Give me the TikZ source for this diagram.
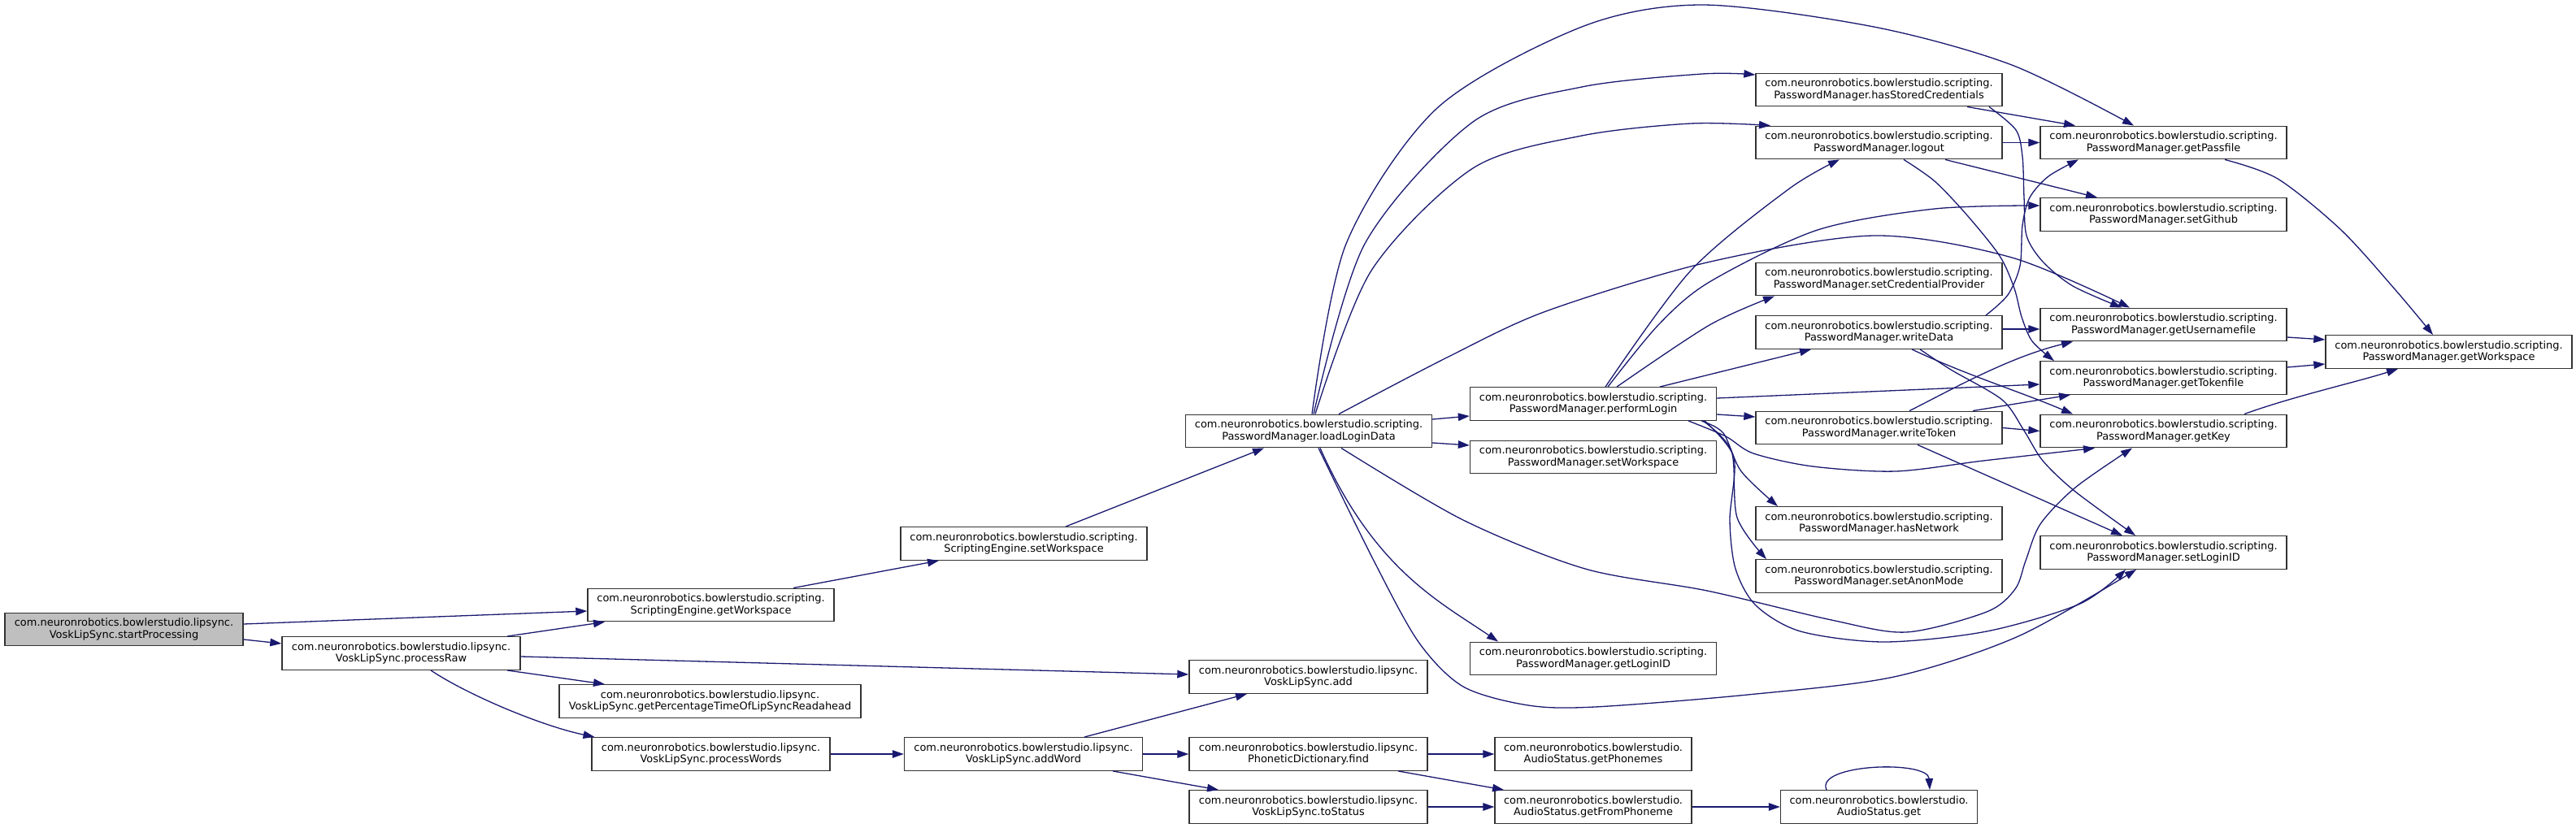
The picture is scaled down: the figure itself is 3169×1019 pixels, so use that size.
\documentclass[tikz,border=0pt]{standalone}
\usepackage{fontspec}
\setmainfont{DejaVu Sans}
\usetikzlibrary{arrows.meta}
\definecolor{edgeC}{HTML}{191970}
\definecolor{rootC}{HTML}{BFBFBF}
\tikzset{
  fn/.style={draw=black!80, line width=1.4pt, rectangle, inner sep=0pt, minimum height=40.5pt, align=center, fill=white,
    font=\fontsize{12.93}{14.7}\selectfont},
  w303/.style={minimum width=303pt},
  w293/.style={minimum width=293pt},
  w242/.style={minimum width=242pt},
  e/.style={draw=edgeC, line width=1.3pt, -{Triangle[length=14pt,width=9.5pt]}},
}
\newcommand{\pkgSc}{com.neuronrobotics.bowlerstudio.scripting.}
\newcommand{\pkgLs}{com.neuronrobotics.bowlerstudio.lipsync.}
\newcommand{\pkgBs}{com.neuronrobotics.bowlerstudio.}
\begin{document}
\begin{tikzpicture}[x=1pt,y=-1pt]
\useasboundingbox (0,0) rectangle (3169,1019);
% nodes
\node[fn,w293,fill=rootC] (sp) at (152.5,774.5) {\pkgLs\\VoskLipSync.startProcessing};
\node[fn,w303] (seGW) at (874.5,744.5) {\pkgSc\\ScriptingEngine.getWorkspace};
\node[fn,w293] (pRaw) at (493.5,804) {\pkgLs\\VoskLipSync.processRaw};
\node[fn,minimum width=371pt] (gPct) at (873.5,863) {\pkgLs\\VoskLipSync.getPercentageTimeOfLipSyncReadahead};
\node[fn,w293] (pWords) at (874.5,928) {\pkgLs\\VoskLipSync.processWords};
\node[fn,w303] (seSW) at (1259.5,669) {\pkgSc\\ScriptingEngine.setWorkspace};
\node[fn,w303] (lld) at (1610,530.5) {\pkgSc\\PasswordManager.loadLoginData};
\node[fn,w293] (add) at (1609.5,833) {\pkgLs\\VoskLipSync.add};
\node[fn,w293] (addWord) at (1259,928) {\pkgLs\\VoskLipSync.addWord};
\node[fn,w293] (find) at (1609.5,928) {\pkgLs\\PhoneticDictionary.find};
\node[fn,w293] (toStatus) at (1609.5,993) {\pkgLs\\VoskLipSync.toStatus};
\node[fn,w303] (perf) at (1960,497) {\pkgSc\\PasswordManager.performLogin};
\node[fn,w303] (pmSW) at (1960,562.5) {\pkgSc\\PasswordManager.setWorkspace};
\node[fn,w303] (gLogin) at (1960,810.5) {\pkgSc\\PasswordManager.getLoginID};
\node[fn,w242] (getPhon) at (1960,928) {\pkgBs\\AudioStatus.getPhonemes};
\node[fn,w242] (getFrom) at (1960,993) {\pkgBs\\AudioStatus.getFromPhoneme};
\node[fn,w303] (hasSC) at (2311.5,110.5) {\pkgSc\\PasswordManager.hasStoredCredentials};
\node[fn,w303] (logout) at (2311.5,175.5) {\pkgSc\\PasswordManager.logout};
\node[fn,w303] (setCP) at (2311.5,343.5) {\pkgSc\\PasswordManager.setCredentialProvider};
\node[fn,w303] (wData) at (2311.5,409) {\pkgSc\\PasswordManager.writeData};
\node[fn,w303] (wToken) at (2311.5,526.5) {\pkgSc\\PasswordManager.writeToken};
\node[fn,w303] (hasNet) at (2311.5,644) {\pkgSc\\PasswordManager.hasNetwork};
\node[fn,w303] (setAnon) at (2311.5,709) {\pkgSc\\PasswordManager.setAnonMode};
\node[fn,w242] (asGet) at (2311.5,993) {\pkgBs\\AudioStatus.get};
\node[fn,w303] (gPass) at (2661.5,175.5) {\pkgSc\\PasswordManager.getPassfile};
\node[fn,w303] (setGh) at (2661.5,264) {\pkgSc\\PasswordManager.setGithub};
\node[fn,w303] (gUser) at (2661.5,399.5) {\pkgSc\\PasswordManager.getUsernamefile};
\node[fn,w303] (gToken) at (2661.5,465) {\pkgSc\\PasswordManager.getTokenfile};
\node[fn,w303] (gKey) at (2661.5,530.5) {\pkgSc\\PasswordManager.getKey};
\node[fn,w303] (setLID) at (2661.5,680) {\pkgSc\\PasswordManager.setLoginID};
\node[fn,w303] (pmGW) at (3012.5,433) {\pkgSc\\PasswordManager.getWorkspace};
% edges: left part
\draw[e] ([yshift=6.5pt]sp.east) -- ([yshift=-7.5pt]seGW.west);
\draw[e] ([yshift=-12.5pt]sp.east) -- ([yshift=12pt]pRaw.west);
\draw[e] ([xshift=130.5pt]pRaw.north) -- ([xshift=-130.5pt]seGW.south);
\draw[e] ([yshift=-4pt]pRaw.east) -- ([yshift=3pt]add.west);
\draw[e] ([xshift=130.5pt]pRaw.south) -- ([xshift=-129.5pt]gPct.north);
\draw[e] ([xshift=36.5pt]pRaw.south) .. controls (575,855) and (665,893) .. ([xshift=-143pt]pWords.north);
\draw[e] (pWords.east) -- (addWord.west);
\draw[e] ([xshift=101.5pt]seGW.north) -- ([xshift=-104.5pt]seSW.south);
\draw[e] ([xshift=51.5pt]seSW.north) -- ([xshift=-55pt]lld.south);
\draw[e] ([xshift=75pt]addWord.north) -- ([xshift=-75.5pt]add.south);
\draw[e] (addWord.east) -- (find.west);
\draw[e] ([xshift=110pt]addWord.south) -- ([xshift=-110.5pt]toStatus.north);
\draw[e] (find.east) -- (getPhon.west);
\draw[e] ([xshift=110.5pt]find.south) -- ([xshift=-110pt]getFrom.north);
\draw[e] (toStatus.east) -- (getFrom.west);
\draw[e] (getFrom.east) -- (asGet.west);
\draw[e] ([xshift=-64.5pt]asGet.north) .. controls (2232,940) and (2372,935) .. ([xshift=62.5pt]asGet.north);
% loadLoginData
\draw[e] plot[smooth] coordinates {([xshift=4pt]lld.north) (1656,300) (1768,133) (1946,33) (2094,6) (2305,33) (2475,80) ([xshift=-36.5pt]gPass.north)};
\draw[e] plot[smooth] coordinates {([xshift=6pt]lld.north) (1679,300) (1812,150) (1946,107) (2094,91) ([yshift=18.5pt]hasSC.west)};
\draw[e] plot[smooth] coordinates {([xshift=8pt]lld.north) (1687,333) (1812,207) (1946,167) (2080,152) ([xshift=-133.5pt]logout.north)};
\draw[e] plot[smooth] coordinates {([xshift=37pt]lld.north) (1780,440) (1902,383) (2100,323) (2305,290) (2475,317) ([xshift=-41.5pt]gUser.north)};
\draw[e] ([yshift=14.5pt]lld.east) -- ([yshift=-15pt]perf.west);
\draw[e] ([yshift=-14.5pt]lld.east) -- ([yshift=14.5pt]pmSW.west);
\draw[e] ([xshift=14pt]lld.south) .. controls (1690,700) and (1770,740) .. ([xshift=-117pt]gLogin.north);
\draw[e] plot[smooth] coordinates {([xshift=12pt]lld.south) (1690,690) (1745,790) (1800,845) (1880,868) (1962,870) (2150,855) (2330,833) (2483,783) ([xshift=-33.5pt]setLID.south)};
\draw[e] plot[smooth] coordinates {([xshift=40pt]lld.south) (1800,640) (1950,700) (2100,727) (2253,763) (2345,778) (2444,753) (2479,725) (2492,690) (2510,645) (2553,600) ([xshift=-38.5pt]gKey.south)};
% performLogin
\draw[e] plot[smooth] coordinates {([xshift=15pt]perf.north) (2080,333) (2200,233) ([xshift=-48.5pt]logout.south)};
\draw[e] plot[smooth] coordinates {([xshift=18pt]perf.north) (2040,400) (2103,347) (2236,283) (2380,257) ([yshift=11pt]setGh.west)};
\draw[e] plot[smooth] coordinates {([xshift=29pt]perf.north) (2103,400) ([xshift=-128.5pt]setCP.south)};
\draw[e] ([xshift=82pt]perf.north) -- ([xshift=-83.5pt]wData.south);
\draw[e] ([yshift=7pt]perf.east) -- ([yshift=-8pt]gToken.west);
\draw[e] ([yshift=-13pt]perf.east) -- ([yshift=13.5pt]wToken.west);
\draw[e] plot[smooth] coordinates {([xshift=117pt]perf.south) (2123,537) (2157,558) (2230,574) (2332,580) (2440,567) ([xshift=-84.5pt]gKey.south)};
\draw[e] plot[smooth] coordinates {([xshift=133pt]perf.south) (2120,533) (2142,580) ([xshift=-124.5pt]hasNet.north)};
\draw[e] plot[smooth] coordinates {([xshift=135pt]perf.south) (2130,555) (2137,637) ([xshift=-138.5pt]setAnon.north)};
\draw[e] plot[smooth] coordinates {([xshift=137pt]perf.south) (2133,563) (2128,640) (2135,700) (2160,745) (2215,777) (2318,790) (2444,777) (2559,743) ([xshift=-46.5pt]setLID.south)};
% second column
\draw[e] ([xshift=108.5pt]hasSC.south) -- ([xshift=-108.5pt]gPass.north);
\draw[e] plot[smooth] coordinates {([xshift=135.5pt]hasSC.south) (2480,160) (2488,193) (2490,243) (2493,290) (2513,322) (2550,352) ([xshift=-51.5pt]gUser.north)};
\draw[e] (logout.east) -- (gPass.west);
\draw[e] ([xshift=81.5pt]logout.south) -- ([xshift=-81.5pt]setGh.north);
\draw[e] plot[smooth] coordinates {([xshift=30.5pt]logout.south) (2380,223) (2420,265) (2460,315) (2478,355) (2487,390) (2500,420) ([xshift=-134.5pt]gToken.north)};
\draw[e] plot[smooth] coordinates {([xshift=131.5pt]wData.north) (2470,363) (2485,327) (2488,277) (2497,243) (2520,217) ([xshift=-104.5pt]gPass.south)};
\draw[e] ([yshift=4pt]wData.east) -- ([yshift=-5.5pt]gUser.west);
\draw[e] ([xshift=40.5pt]wData.south) .. controls (2420,462) and (2480,480) .. ([xshift=-111.5pt]gKey.north);
\draw[e] plot[smooth] coordinates {([xshift=50.5pt]wData.south) (2400,455) (2463,492) (2490,530) (2513,567) (2553,605) ([xshift=-34.5pt]setLID.north)};
\draw[e] ([xshift=37.5pt]wToken.north) .. controls (2400,480) and (2470,440) .. ([xshift=-111.5pt]gUser.south);
\draw[e] ([xshift=115.5pt]wToken.north) -- ([xshift=-114.5pt]gToken.south);
\draw[e] (wToken.east) -- (gKey.west);
\draw[e] ([xshift=47.5pt]wToken.south) -- ([xshift=-50.5pt]setLID.north);
% to getWorkspace
\draw[e] plot[smooth] coordinates {([xshift=75.5pt]gPass.south) (2802,220) (2880,283) (2947,357) ([xshift=-19.5pt]pmGW.north)};
\draw[e] ([yshift=-15.5pt]gUser.east) -- ([yshift=15pt]pmGW.west);
\draw[e] ([yshift=13pt]gToken.east) -- ([yshift=-15pt]pmGW.west);
\draw[e] ([xshift=99.5pt]gKey.north) .. controls (2820,488) and (2900,470) .. ([xshift=-62.5pt]pmGW.south);
\end{tikzpicture}
\end{document}
